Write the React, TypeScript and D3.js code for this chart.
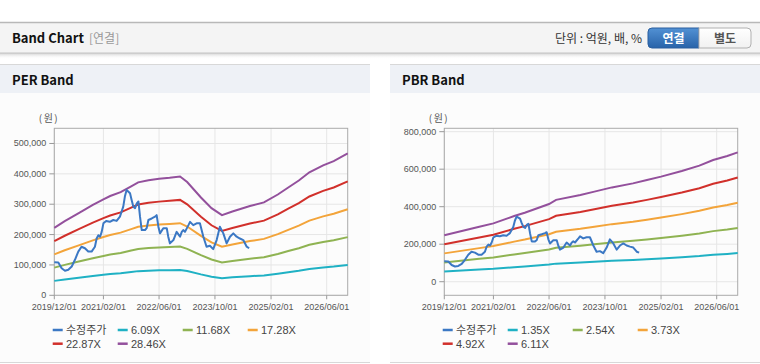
import React from 'react';
import * as d3 from 'd3';

// ---------- data ----------
const tickDates = ['2019-12-01', '2021-02-01', '2022-06-01', '2023-10-01', '2025-02-01', '2026-06-01'];
const tickLabels = ['2019/12/01', '2021/02/01', '2022/06/01', '2023/10/01', '2025/02/01', '2026/06/01'];

const priceDates = [
  '2019-12-01', '2020-01-05', '2020-02-03', '2020-03-03', '2020-04-01', '2020-05-01', '2020-05-29', '2020-06-27',
  '2020-07-25', '2020-08-24', '2020-09-22', '2020-10-21', '2020-11-19', '2020-12-04', '2020-12-19', '2021-01-03',
  '2021-01-17', '2021-02-01', '2021-02-25', '2021-03-29', '2021-04-28', '2021-05-27', '2021-06-25', '2021-07-24',
  '2021-08-07', '2021-08-22', '2021-09-21', '2021-10-05', '2021-10-20', '2021-11-04', '2021-11-19', '2021-12-03',
  '2021-12-17', '2022-01-01', '2022-01-30', '2022-02-13', '2022-02-28', '2022-03-29', '2022-04-27', '2022-05-11',
  '2022-05-26', '2022-06-09', '2022-07-08', '2022-08-07', '2022-08-20', '2022-09-04', '2022-10-04', '2022-11-01',
  '2022-12-01', '2022-12-16', '2022-12-29', '2023-01-13', '2023-02-12', '2023-02-26', '2023-03-26', '2023-04-24',
  '2023-05-23', '2023-06-22', '2023-07-20', '2023-08-18', '2023-09-16', '2023-10-16', '2023-11-13', '2023-12-13',
  '2024-01-11', '2024-02-09', '2024-03-09', '2024-04-07', '2024-05-06', '2024-06-04', '2024-07-04', '2024-07-25',
];
const priceValues = [
  109000, 108000, 89000, 81000, 84000, 95000, 117000, 144000,
  160000, 155000, 144000, 144000, 160000, 187000, 198000, 193000,
  209000, 237000, 245000, 242000, 248000, 245000, 259000, 292000,
  325000, 347000, 336000, 314000, 292000, 287000, 303000, 309000,
  259000, 215000, 215000, 221000, 248000, 253000, 259000, 264000,
  226000, 204000, 221000, 221000, 193000, 171000, 182000, 209000,
  193000, 209000, 215000, 209000, 231000, 242000, 231000, 237000,
  237000, 193000, 160000, 163000, 152000, 182000, 226000, 204000,
  171000, 193000, 204000, 193000, 187000, 182000, 160000, 155000,
];

const perDates = [
  '2019-12-01', '2020-03-01', '2020-07-01', '2020-11-01', '2021-02-01', '2021-04-01', '2021-07-01', '2021-10-01',
  '2021-12-01', '2022-03-01', '2022-06-01', '2022-09-01', '2022-12-01', '2023-02-01', '2023-06-01', '2023-09-01',
  '2023-12-01', '2024-03-01', '2024-08-01', '2024-12-01', '2025-04-01', '2025-07-01', '2025-10-01', '2026-01-01',
  '2026-05-01', '2026-08-01', '2026-12-01',
];
const perEps = [
  7800, 8575, 9520, 10470, 11105, 11490, 11945, 12615,
  13070, 13320, 13490, 13600, 13740, 13105, 11315, 10085,
  9275, 9700, 10330, 10750, 11665, 12475, 13280, 14230,
  15040, 15530, 16410,
];
const perMultiples = [6.09, 11.68, 17.28, 22.87, 28.46];
const perTicks = [0, 100000, 200000, 300000, 400000, 500000];

const pbrDates = [
  '2019-12-01', '2020-10-01', '2021-02-01', '2021-08-01', '2021-11-01', '2022-06-01', '2022-08-01', '2023-03-01',
  '2023-07-01', '2023-12-01', '2024-06-01', '2024-10-01', '2025-02-01', '2025-08-01', '2026-01-01', '2026-05-01',
  '2026-09-01', '2026-12-01',
];
const pbrBps = [
  40500, 48000, 50900, 57300, 60200, 67800, 71400, 75600,
  78600, 82300, 85800, 88700, 91700, 96600, 101300, 106200,
  109700, 112900,
];
const pbrMultiples = [1.35, 2.54, 3.73, 4.92, 6.11];
const pbrTicks = [0, 200000, 400000, 600000, 800000];

const priceColor = '#3b78c4';
const bandColors = ['#1fb1c4', '#8fb352', '#f3a43a', '#d1302b', '#93509c'];

// ---------- drawing ----------
const AXIS_FONT = '"Liberation Sans", Arial, "Noto Sans CJK KR", sans-serif';
const KR_FONT = '"Noto Sans CJK KR", "Liberation Sans", sans-serif';
const parse = (s: string) => new Date(s + 'T00:00:00');

type PanelProps = {
  x0: number;
  title: string;
  baseDates: string[];
  baseValues: number[];
  multiples: number[];
  yDomain: [number, number];
  yTicks: number[];
};

function BandPanel({ x0, title, baseDates, baseValues, multiples, yDomain, yTicks }: PanelProps) {
  const left = 54.3, right = 347.7, top = 128.3, bottom = 295.3;
  const x = d3.scaleTime().domain([parse('2019-12-01'), parse('2026-12-01')]).range([left, right]);
  const y = d3.scaleLinear().domain(yDomain).range([bottom, top]);
  const line = d3.line<[Date, number]>().x((d) => x(d[0])).y((d) => y(d[1]));
  const price: [Date, number][] = priceDates.map((d, i) => [parse(d), priceValues[i]]);
  const bands = multiples.map((m) => baseDates.map((d, i) => [parse(d), baseValues[i] * m] as [Date, number]));
  const legend = [{ label: '수정주가', color: priceColor }].concat(
    multiples.map((m, i) => ({ label: `${m.toFixed(2)}X`, color: bandColors[i] }))
  );
  const fmt = d3.format(',');
  return (
    <g transform={`translate(${x0},0)`}>
      <rect x={0} y={64} width={370} height={298.5} fill="#fcfcfc" />
      <rect x={0} y={64} width={370} height={29} fill="#eef1f6" />
      <line x1={0} x2={370} y1={64.5} y2={64.5} stroke="#d8d8d8" />
      <line x1={0} x2={370} y1={362.5} y2={362.5} stroke="#d8d8d8" />
      <text x={12} y={85} fontFamily={KR_FONT} fontWeight="bold" fontSize={13} fill="#111">{title}</text>

      {/* grid */}
      {tickDates.map((d) => (
        <line key={d} x1={x(parse(d))} x2={x(parse(d))} y1={top} y2={bottom} stroke="#e6e6e6" />
      ))}
      {yTicks.map((t) => (
        <line key={t} x1={left} x2={right} y1={y(t)} y2={y(t)} stroke="#e6e6e6" />
      ))}
      <rect x={left} y={top} width={right - left} height={bottom - top} fill="none" stroke="#aaa" />

      {/* y axis */}
      {yTicks.map((t) => (
        <g key={t}>
          <line x1={left - 5} x2={left} y1={y(t)} y2={y(t)} stroke="#999" />
          <text x={left - 8} y={y(t) + 3} textAnchor="end" fontFamily={AXIS_FONT} fontSize={9} fill="#555">
            {fmt(t)}
          </text>
        </g>
      ))}
      <text x={49} y={122} textAnchor="middle" fontFamily={KR_FONT} fontSize={10} letterSpacing={1.5} fill="#555">(원)</text>

      {/* x axis */}
      {tickDates.map((d, i) => (
        <g key={d}>
          <line x1={x(parse(d))} x2={x(parse(d))} y1={bottom} y2={bottom + 4} stroke="#999" />
          <text x={x(parse(d))} y={310} textAnchor="middle" fontFamily={AXIS_FONT} fontSize={9} fill="#555">
            {tickLabels[i]}
          </text>
        </g>
      ))}

      {/* series */}
      {bands.map((b, i) => (
        <path key={i} d={line(b) || ''} fill="none" stroke={bandColors[i]} strokeWidth={2} />
      ))}
      <path d={line(price) || ''} fill="none" stroke={priceColor} strokeWidth={2} strokeLinejoin="round" />

      {/* legend */}
      {legend.map((it, i) => {
        const lx = 52.7 + (i % 4) * 65;
        const ly = 330 + Math.floor(i / 4) * 13.7;
        return (
          <g key={it.label}>
            <line x1={lx} x2={lx + 10} y1={ly} y2={ly} stroke={it.color} strokeWidth={2.5} />
            <text x={lx + 13.3} y={ly + 4} fontFamily={AXIS_FONT} fontSize={11} fill="#444">{it.label}</text>
          </g>
        );
      })}
    </g>
  );
}

export default function App() {
  return (
    <svg width={760} height={364} style={{ position: 'absolute', left: 0, top: 0, background: '#fff' }}>
      <defs>
        <linearGradient id="shadow" x1="0" y1="0" x2="0" y2="1">
          <stop offset="0" stopColor="#d0d0d0" />
          <stop offset="1" stopColor="#ffffff" stopOpacity={0} />
        </linearGradient>
        <linearGradient id="blueBtn" x1="0" y1="0" x2="0" y2="1">
          <stop offset="0" stopColor="#5291d4" />
          <stop offset="1" stopColor="#2863a9" />
        </linearGradient>
        <linearGradient id="whiteBtn" x1="0" y1="0" x2="0" y2="1">
          <stop offset="0" stopColor="#ffffff" />
          <stop offset="1" stopColor="#f1f1f1" />
        </linearGradient>
      </defs>
      {/* header */}
      <rect x={0} y={22} width={760} height={31} fill="#f4f4f4" />
      <line x1={0} x2={760} y1={22.5} y2={22.5} stroke="#b8b8b8" strokeWidth={1.5} />
      <rect x={0} y={53} width={760} height={6} fill="url(#shadow)" />
      <line x1={0} x2={760} y1={53} y2={53} stroke="#c4c4c4" />
      <text x={12} y={43} fontFamily={KR_FONT} fontWeight="bold" fontSize={13} fill="#111">Band Chart</text>
      <text x={89} y={43} fontFamily={KR_FONT} fontSize={12} fill="#999">[연결]</text>
      <text x={642} y={43} textAnchor="end" fontFamily={KR_FONT} fontSize={12} fill="#333">단위 : 억원, 배, %</text>
      <path d="M699,28 H652 a4,4 0 0 0 -4,4 V44 a4,4 0 0 0 4,4 H699 Z" fill="url(#blueBtn)" stroke="#2b5f9f" />
      <path d="M699,28 H747 a4,4 0 0 1 4,4 V44 a4,4 0 0 1 -4,4 H699 Z" fill="url(#whiteBtn)" stroke="#b0b0b0" />
      <text x={673.5} y={42.5} textAnchor="middle" fontFamily={KR_FONT} fontWeight="bold" fontSize={12} fill="#fff">연결</text>
      <text x={725} y={42.5} textAnchor="middle" fontFamily={KR_FONT} fontWeight="bold" fontSize={12} fill="#555">별도</text>

      <BandPanel x0={0} title="PER Band" baseDates={perDates} baseValues={perEps} multiples={perMultiples}
        yDomain={[0, 550000]} yTicks={perTicks} />
      <BandPanel x0={390} title="PBR Band" baseDates={pbrDates} baseValues={pbrBps} multiples={pbrMultiples}
        yDomain={[-72500, 818000]} yTicks={pbrTicks} />
    </svg>
  );
}
